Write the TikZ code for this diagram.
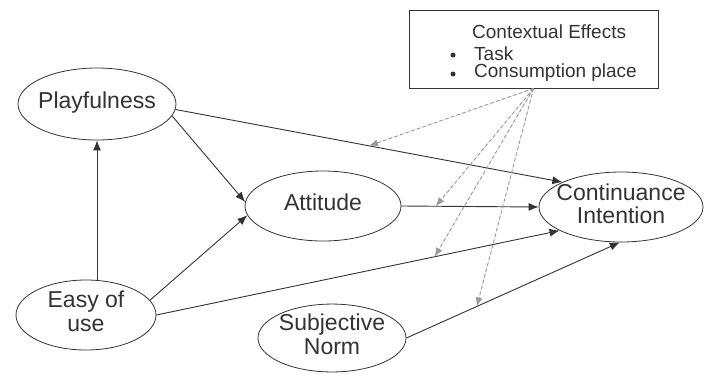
\documentclass[tikz,border=0pt]{standalone}
\usepackage{fontspec}
\setmainfont{Liberation Sans}
\usetikzlibrary{arrows.meta,shapes.geometric}
\definecolor{ink}{HTML}{333333}
\definecolor{dash}{HTML}{999999}
\newcommand{\ctext}[2]{\makebox[0pt]{\fontsize{23}{#1}\selectfont\begin{tabular}{@{}c@{}}#2\end{tabular}}}
\tikzset{
  ell/.style={ellipse, draw=ink, line width=0.8pt, inner sep=0pt, text=ink},
  arr/.style={-{Latex[length=10pt,width=8pt]}, draw=ink, line width=0.9pt},
  darr/.style={-{Latex[length=9pt,width=7pt]}, draw=dash, fill=dash, line width=0.9pt, dash pattern=on 3.5pt off 2.5pt},
  bul/.style={circle, fill=ink, inner sep=0pt, minimum size=5pt},
  ctx/.style={text=ink, anchor=west, inner sep=0pt, font=\fontsize{19}{20}\selectfont},
}
\begin{document}
\begin{tikzpicture}[x=1pt,y=-1pt]
\useasboundingbox (0,0) rectangle (708,375);
\fill[white] (0,0) rectangle (708,375);
\node[ell, minimum width=158pt, minimum height=72pt] (pl) at (97,104) {\ctext{24}{Playfulness}};
\node[ell, minimum width=156pt, minimum height=70pt] (at) at (323,206) {\ctext{24}{Attitude}};
\node[ell, minimum width=164pt, minimum height=70pt] (ci) at (621,207) {\ctext{21}{Continuance\\Intention}};
\node[ell, minimum width=140pt, minimum height=70pt] (eu) at (86,315) {\ctext{24}{Easy of\\use}};
\node[ell, minimum width=148pt, minimum height=64pt] (sn) at (332,338) {\ctext{24}{Subjective\\Norm}};
\node[draw=ink, line width=0.8pt, minimum width=249pt, minimum height=78pt, inner sep=0pt] (ce) at (533.5,49) {};
\node[ctx] (t1) at (472,32) {Contextual Effects};
\node[ctx] (t2) at (474,54) {Task};
\node[ctx] (t3) at (474,73) {Consumption place};
\node[bul] (b2) at (453,55) {};
\node[bul] (b3) at (453,74) {};
\coordinate (src) at (ce.south);
% solid arrows
\draw[arr] (pl.south |- eu.north) -- (pl.south);
\draw[arr] (pl.-9) -- (at.177);
\draw[arr] (eu.13) -- (at.187);
\draw[arr] (pl.-4) -- (ci.157.7) coordinate[pos=0.5] (m1);
\draw[arr] (at.east) -- (ci.west) coordinate[pos=0.25] (m2);
\draw[arr] (eu.east) -- (ci.-159) coordinate[pos=0.69] (m3);
\draw[arr] (sn.east) -- (ci.-92) coordinate[pos=0.33] (m4);
% dashed
\draw[darr] (src) -- (m1);
\draw[darr] (src) -- (m2);
\draw[darr] (src) -- (m3);
\draw[darr] (src) -- (m4);
\end{tikzpicture}
\end{document}
